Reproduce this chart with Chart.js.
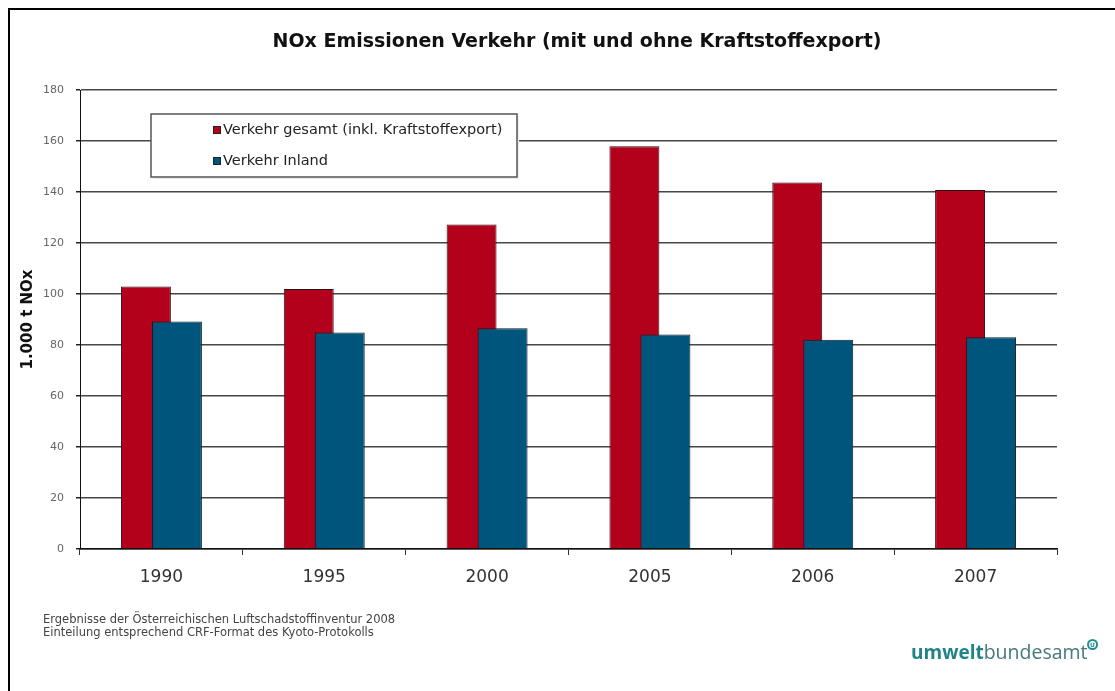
<!DOCTYPE html>
<html lang="de">
<head>
<meta charset="utf-8">
<title>NOx Emissionen Verkehr</title>
<script src="https://cdn.jsdelivr.net/npm/chart.js@4.4.1/dist/chart.umd.min.js"></script>
<style>
  html, body { margin: 0; padding: 0; background: #ffffff; }
  #wrap { width: 1115px; height: 691px; position: relative; }
  canvas { display: block; }
</style>
</head>
<body>
<div id="wrap"><canvas id="c" width="1115" height="691"></canvas></div>
<script>
// Jahre und Emissionen (1.000 t NOx)
const years = ['1990', '1995', '2000', '2005', '2006', '2007'];
const verkehrGesamt = [102.9, 102.0, 127.3, 157.9, 143.7, 140.8];
const verkehrInland = [89.2, 84.9, 86.6, 84.1, 82.1, 83.0];
const yMin = 0;
const yMax = 180;
const yStep = 20;

const seriesLabels = ['Verkehr gesamt (inkl. Kraftstoffexport)', 'Verkehr Inland'];
const chartTitle = 'NOx Emissionen Verkehr (mit und ohne Kraftstoffexport)';
const yTitle = '1.000 t NOx';
const footLines = [
  'Ergebnisse der Österreichischen Luftschadstoffinventur 2008',
  'Einteilung entsprechend CRF-Format des Kyoto-Protokolls'
];

const RED = '#b3001b';
const BLUE = '#00557c';
const FONT = '"DejaVu Sans", Verdana, sans-serif';

// Excel-style overlap: the blue bar is painted over the red one
const paintOrder = {
  id: 'paintOrder',
  beforeDatasetsDraw(chart) {
    chart.data.datasets.forEach((ds, i) => {
      const meta = chart.getDatasetMeta(i);
      if (!meta.hidden) meta.controller.draw();
    });
    return false;
  }
};

// Frame, title, legend box, footnote and logo
const decorations = {
  id: 'decorations',
  beforeDraw(chart) {
    const ctx = chart.ctx;
    ctx.save();
    ctx.fillStyle = '#ffffff';
    ctx.fillRect(0, 0, chart.width, chart.height);
    ctx.restore();
  },
  afterDraw(chart) {
    const ctx = chart.ctx;
    ctx.save();

    // frame
    ctx.strokeStyle = '#000';
    ctx.lineWidth = 2;
    ctx.beginPath();
    ctx.moveTo(9, chart.height);
    ctx.lineTo(9, 9);
    ctx.lineTo(chart.width, 9);
    ctx.stroke();

    // title
    ctx.fillStyle = '#111';
    ctx.font = 'bold 19px ' + FONT;
    ctx.textAlign = 'center';
    ctx.textBaseline = 'middle';
    ctx.fillText(chartTitle, 577, 42);

    // legend box
    const lx = 151, ly = 114, lw = 366, lh = 63;
    ctx.fillStyle = '#ececec';
    ctx.fillRect(lx + 2, ly + 2, lw, lh);
    ctx.fillStyle = '#ffffff';
    ctx.fillRect(lx, ly, lw, lh);
    ctx.strokeStyle = '#555';
    ctx.lineWidth = 1.5;
    ctx.strokeRect(lx, ly, lw, lh);

    const rows = [130, 161];
    chart.data.datasets.forEach((ds, i) => {
      const y = rows[i];
      ctx.fillStyle = ds.backgroundColor;
      ctx.fillRect(213, y - 4, 8, 8);
      ctx.strokeStyle = '#222';
      ctx.lineWidth = 1;
      ctx.strokeRect(213.5, y - 3.5, 7, 7);
      ctx.fillStyle = '#222';
      ctx.font = '14.5px ' + FONT;
      ctx.textAlign = 'left';
      ctx.textBaseline = 'middle';
      ctx.fillText(ds.label, 223, y);
    });

    // footnote
    ctx.fillStyle = '#444';
    ctx.font = '11.5px ' + FONT;
    ctx.textAlign = 'left';
    ctx.textBaseline = 'middle';
    footLines.forEach((t, i) => ctx.fillText(t, 43, 620 + i * 13));

    // logo
    ctx.textBaseline = 'alphabetic';
    ctx.font = 'bold 19px "Open Sans", ' + FONT;
    ctx.fillStyle = '#1f8486';
    const part1 = 'umwelt';
    ctx.fillText(part1, 911, 659);
    const w1 = ctx.measureText(part1).width;
    ctx.font = '19.5px "Open Sans", ' + FONT;
    ctx.fillStyle = '#47787c';
    const part2 = 'bundesamt';
    ctx.fillText(part2, 911 + w1, 659);
    const w2 = ctx.measureText(part2).width;
    const cx = 911 + w1 + w2 + 5, cy = 644.5;
    ctx.strokeStyle = '#1f8f8f';
    ctx.lineWidth = 2;
    ctx.beginPath();
    ctx.arc(cx, cy, 4.5, 0, Math.PI * 2);
    ctx.stroke();
    ctx.fillStyle = '#1f8f8f';
    ctx.font = 'bold 6px ' + FONT;
    ctx.textAlign = 'center';
    ctx.textBaseline = 'middle';
    ctx.fillText('U', cx, cy + 0.5);

    ctx.restore();
  }
};

new Chart(document.getElementById('c'), {
  type: 'bar',
  data: {
    labels: years,
    datasets: [
      {
        label: seriesLabels[0],
        data: verkehrGesamt,
        backgroundColor: RED,
        borderColor: '#2b1111',
        borderWidth: 1
      },
      {
        label: seriesLabels[1],
        data: verkehrInland,
        backgroundColor: BLUE,
        borderColor: '#0d1c26',
        borderWidth: 1
      }
    ]
  },
  options: {
    responsive: false,
    animation: false,
    devicePixelRatio: 1,
    categoryPercentage: 0.381,
    barPercentage: 1.61,
    layout: { padding: { top: 90, right: 58, bottom: 0, left: 0 } },
    plugins: {
      legend: { display: false },
      title: { display: false },
      tooltip: { enabled: false }
    },
    scales: {
      x: {
        offset: true,
        grid: {
          offset: true,
          drawOnChartArea: false,
          drawTicks: true,
          tickLength: 6,
          tickColor: '#333',
          lineWidth: 1
        },
        border: { display: true, color: '#111', width: 1.5 },
        ticks: {
          color: '#333',
          font: { family: FONT, size: 17 },
          padding: 12
        },
        afterFit(scale) { scale.height = 142; }
      },
      y: {
        min: yMin,
        max: yMax,
        ticks: {
          stepSize: yStep,
          color: '#666',
          font: { family: FONT, size: 11 },
          padding: 12
        },
        grid: {
          color: '#474747',
          lineWidth: 1.5,
          tickLength: 4,
          tickColor: '#222'
        },
        border: { display: true, color: '#111', width: 1 },
        title: {
          display: true,
          text: yTitle,
          color: '#111',
          font: { family: FONT, size: 15, weight: 'bold' },
          padding: { top: 19, bottom: 0 }
        },
        afterFit(scale) { scale.width = 80; }
      }
    }
  },
  plugins: [decorations, paintOrder]
});
</script>
</body>
</html>
